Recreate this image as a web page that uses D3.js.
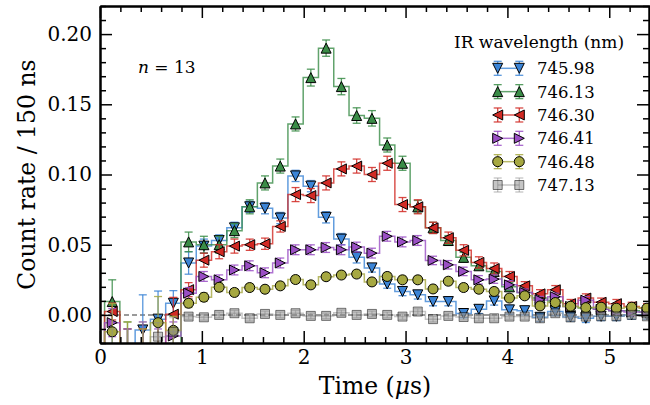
<!DOCTYPE html>
<html>
<head>
<meta charset="utf-8">
<script src="https://cdn.jsdelivr.net/npm/d3@7"></script>
<style>
  body { margin: 0; background: #fff; }
  text { font-family: "DejaVu Serif", serif; fill: #000; }
</style>
</head>
<body>
<div class="chart"></div>
<script>
// bin centres in microseconds (150 ns bins), first and last sit just outside the axes
const times = [-0.03, 0.12, 0.27, 0.42, 0.57, 0.72, 0.87, 1.02, 1.17, 1.32, 1.47, 1.62, 1.77,
  1.92, 2.07, 2.22, 2.37, 2.52, 2.67, 2.82, 2.97, 3.12, 3.27, 3.42, 3.57, 3.72, 3.87, 4.02,
  4.17, 4.32, 4.47, 4.62, 4.77, 4.92, 5.07, 5.22, 5.37, 5.52];

const labels = ["745.98", "746.13", "746.30", "746.41", "746.48", "747.13"];

const blue = [-0.03, -0.025, -0.03, -0.0107, -0.003, 0.0083, 0.037, 0.049, 0.053, 0.062, 0.077,
  0.076, 0.069, 0.099, 0.0917, 0.0695, 0.054, 0.041, 0.0335, 0.022, 0.0167, 0.0143, 0.0095,
  0.0095, 0.001, 0.004, 0.010, 0.0036, 0.003, -0.0017, 0.0024, -0.0015, -0.0024, -0.001,
  -0.001, 0.0, 0.0, 0.001];
const blueErr = [0.02, 0.02, 0.02, 0.025, 0.02, 0.009, 0.008, 0.005, 0.004, 0.004, 0.004,
  0.004, 0.004, 0.004, 0.004, 0.004, 0.004, 0.004, 0.003, 0.003, 0.003, 0.003, 0.003, 0.003,
  0.003, 0.003, 0.003, 0.003, 0.003, 0.003, 0.003, 0.003, 0.003, 0.003, 0.003, 0.003, 0.003, 0.003];

const green = [-0.03, 0.0095, -0.025, -0.03, -0.025, -0.03, 0.052, 0.050, 0.050, 0.060, 0.077,
  0.094, 0.106, 0.136, 0.169, 0.190, 0.1626, 0.142, 0.140, 0.121, 0.108, 0.077, 0.062, 0.053,
  0.041, 0.035, 0.031, 0.020, 0.016, 0.012, 0.010, 0.006, 0.005, 0.004, 0.003, 0.003, 0.002, 0.002];
const greenErr = [0.02, 0.0155, 0.02, 0.02, 0.02, 0.02, 0.007, 0.006, 0.006, 0.005, 0.005,
  0.005, 0.005, 0.005, 0.006, 0.0058, 0.0058, 0.0055, 0.0055, 0.005, 0.005, 0.0045, 0.004,
  0.0035, 0.0035, 0.003, 0.003, 0.003, 0.003, 0.003, 0.003, 0.003, 0.003, 0.003, 0.003, 0.003, 0.003, 0.003];

const red = [-0.03, 0.0024, -0.03, -0.03, -0.025, 0.0005, 0.018, 0.039, 0.045, 0.049, 0.050,
  0.0507, 0.063, 0.0857, 0.085, 0.094, 0.104, 0.106, 0.100, 0.108, 0.0786, 0.077, 0.062, 0.055,
  0.046, 0.0374, 0.033, 0.0274, 0.0207, 0.015, 0.0179, 0.008, 0.012, 0.009, 0.008, 0.006, 0.005, 0.004];
const redErr = [0.02, 0.006, 0.02, 0.02, 0.02, 0.012, 0.005, 0.005, 0.005, 0.005, 0.004,
  0.004, 0.004, 0.005, 0.005, 0.005, 0.005, 0.005, 0.005, 0.005, 0.005, 0.005, 0.004, 0.004,
  0.004, 0.004, 0.004, 0.0035, 0.003, 0.003, 0.003, 0.003, 0.003, 0.003, 0.003, 0.003, 0.003, 0.003];

const purple = [-0.03, -0.0055, -0.03, -0.025, -0.03, -0.015, 0.0155, 0.0274, 0.025, 0.032,
  0.035, 0.030, 0.037, 0.0464, 0.0464, 0.048, 0.0464, 0.0483, 0.044, 0.056, 0.052, 0.053,
  0.0388, 0.0357, 0.031, 0.025, 0.0255, 0.0214, 0.016, 0.0107, 0.013, 0.006, 0.0105, 0.004,
  0.003, 0.002, 0.002, 0.002];
const purpleErr = [0.02, 0.01, 0.02, 0.02, 0.02, 0.01, 0.004, 0.0035, 0.0035, 0.0035, 0.0035,
  0.0035, 0.0035, 0.0035, 0.0035, 0.0035, 0.0035, 0.0035, 0.0035, 0.0035, 0.0035, 0.0035,
  0.003, 0.003, 0.003, 0.003, 0.003, 0.003, 0.0025, 0.0025, 0.0025, 0.0025, 0.0025, 0.0025,
  0.0025, 0.0025, 0.0025, 0.0025];

const olive = [-0.03, -0.012, -0.025, -0.03, -0.0055, -0.011, 0.0083, 0.0126, 0.0197, 0.016,
  0.0195, 0.0183, 0.0207, 0.0252, 0.0214, 0.0272, 0.0284, 0.0291, 0.0235, 0.0274, 0.025, 0.025,
  0.0185, 0.024, 0.0195, 0.0183, 0.0167, 0.012, 0.0136, 0.0064, 0.0088, 0.0062, 0.0052, 0.0055,
  0.0048, 0.0055, 0.0048, 0.004];
const oliveErr = [0.02, 0.02, 0.02, 0.02, 0.0186, 0.01, 0.003, 0.003, 0.003, 0.0025, 0.0025,
  0.0025, 0.0025, 0.0025, 0.0025, 0.0025, 0.0025, 0.0025, 0.0025, 0.0025, 0.0025, 0.0025,
  0.0025, 0.0025, 0.0025, 0.0025, 0.0025, 0.0025, 0.0025, 0.0025, 0.0025, 0.0025, 0.0025,
  0.0025, 0.0025, 0.0025, 0.0025, 0.0025];

const gray = [-0.03, -0.03, -0.03, -0.025, -0.0155, -0.012, -0.0012, -0.0017, 0.0, 0.0012,
  -0.0024, 0.0007, 0.0, 0.0012, -0.0007, -0.0007, 0.0015, 0.0, 0.0007, 0.0, -0.0012, 0.0024,
  -0.003, -0.0007, -0.0015, -0.0024, -0.0024, -0.0012, -0.0012, -0.0024, 0.0012, -0.0018,
  -0.0012, -0.001, -0.001, 0.0, -0.001, 0.0];
const grayErr = [0.02, 0.02, 0.02, 0.02, 0.01, 0.01, 0.002, 0.002, 0.002, 0.002, 0.002, 0.002,
  0.002, 0.002, 0.002, 0.002, 0.002, 0.002, 0.002, 0.002, 0.002, 0.002, 0.002, 0.002, 0.002,
  0.002, 0.002, 0.002, 0.002, 0.002, 0.002, 0.002, 0.002, 0.002, 0.002, 0.002, 0.002, 0.002];

const xTicks = [0, 1, 2, 3, 4, 5];
const yTicks = [0.00, 0.05, 0.10, 0.15, 0.20];

const series = [
  {name: labels[0], vals: blue,   err: blueErr,   color: "#3b84d6", marker: "down",   alpha: 1},
  {name: labels[1], vals: green,  err: greenErr,  color: "#3a8c47", marker: "up",     alpha: 1},
  {name: labels[2], vals: red,    err: redErr,    color: "#d12a24", marker: "left",   alpha: 1},
  {name: labels[3], vals: purple, err: purpleErr, color: "#9a4fc4", marker: "right",  alpha: 1},
  {name: labels[4], vals: olive,  err: oliveErr,  color: "#a6a841", marker: "circle", alpha: 1},
  {name: labels[5], vals: gray,   err: grayErr,   color: "#8c8c8c", marker: "square", alpha: 0.5}
];

const W = 650, H = 405;
const L = 100, R = 650, T = 6, B = 343;

const svg = d3.select(".chart").append("svg")
  .attr("width", W)
  .attr("height", H)
  .style("background", "#fff");

const x = d3.scaleLinear().domain([0, 5.4]).range([L, R]);
const y = d3.scaleLinear().domain([-0.02, 0.22]).range([B, T]);

svg.append("clipPath").attr("id", "plotclip")
  .append("rect").attr("x", L).attr("y", T).attr("width", R - L).attr("height", B - T);

// marker shapes like matplotlib's v ^ < > o s
function markerPath(type, r) {
  if (type === "circle") return d3.symbol(d3.symbolCircle, Math.PI * r * r)();
  if (type === "square") return d3.symbol(d3.symbolSquare, (1.8 * r) * (1.8 * r))();
  const pts = {
    up: [[0, -r], [-r, r], [r, r]],
    down: [[0, r], [-r, -r], [r, -r]],
    left: [[-r, 0], [r, -r], [r, r]],
    right: [[r, 0], [-r, -r], [-r, r]]
  }[type];
  return "M" + pts.map(p => p.join(",")).join("L") + "Z";
}

const plot = svg.append("g").attr("clip-path", "url(#plotclip)");

// dashed zero line
plot.append("line")
  .attr("x1", L).attr("x2", R)
  .attr("y1", y(0)).attr("y2", y(0))
  .attr("stroke", "#7a7a7a")
  .attr("stroke-width", 1.5)
  .attr("stroke-dasharray", "5,3");

const step = d3.line()
  .x(d => x(d.t))
  .y(d => y(d.v))
  .curve(d3.curveStep);

const cap = 4;

series.forEach(s => {
  const pts = times.map((t, i) => ({t: t, v: s.vals[i], e: s.err[i]}));
  const g = plot.append("g");

  g.append("path")
    .attr("d", step(pts))
    .attr("fill", "none")
    .attr("stroke", s.color)
    .attr("stroke-width", 1.5)
    .attr("stroke-opacity", s.alpha < 1 ? s.alpha : 0.8);

  const eb = g.selectAll(".eb").data(pts).enter().append("g")
    .attr("stroke", s.color)
    .attr("stroke-width", 1.3)
    .attr("stroke-opacity", s.alpha < 1 ? s.alpha : 0.85);
  eb.append("line")
    .attr("x1", d => x(d.t)).attr("x2", d => x(d.t))
    .attr("y1", d => y(d.v - d.e)).attr("y2", d => y(d.v + d.e));
  eb.append("line")
    .attr("x1", d => x(d.t) - cap).attr("x2", d => x(d.t) + cap)
    .attr("y1", d => y(d.v + d.e)).attr("y2", d => y(d.v + d.e));
  eb.append("line")
    .attr("x1", d => x(d.t) - cap).attr("x2", d => x(d.t) + cap)
    .attr("y1", d => y(d.v - d.e)).attr("y2", d => y(d.v - d.e));

  g.selectAll(".mk").data(pts).enter().append("path")
    .attr("d", markerPath(s.marker, 5))
    .attr("transform", d => `translate(${x(d.t)},${y(d.v)})`)
    .attr("fill", s.color)
    .attr("fill-opacity", s.alpha)
    .attr("stroke", "#000")
    .attr("stroke-opacity", s.alpha)
    .attr("stroke-width", 1);
});

// axes: ticks point inward on all four sides
function styleAxis(g) {
  g.select(".domain").attr("stroke", "#000").attr("stroke-width", 2);
  g.selectAll(".tick line").attr("stroke", "#000").attr("stroke-width", 1.5);
  g.selectAll(".tick text").style("font-family", "DejaVu Serif").style("font-size", "20px").attr("fill", "#000");
}

const xMinor = d3.range(0, 5.41, 0.2).filter(v => Math.abs(v - Math.round(v)) > 1e-6);
const yMinor = d3.range(-0.02, 0.2201, 0.01).filter(v => Math.abs(v * 20 - Math.round(v * 20)) > 1e-6);

svg.append("g").attr("transform", `translate(0,${B})`)
  .call(d3.axisBottom(x).tickValues(xMinor).tickSize(-6).tickSizeOuter(0).tickFormat(""))
  .call(styleAxis);
svg.append("g").attr("transform", `translate(0,${B})`)
  .call(d3.axisBottom(x).tickValues(xTicks).tickSize(-12).tickSizeOuter(0).tickPadding(7).tickFormat(d3.format("d")))
  .call(styleAxis);
svg.append("g").attr("transform", `translate(0,${T})`)
  .call(d3.axisTop(x).tickValues(xMinor).tickSize(-6).tickSizeOuter(0).tickFormat(""))
  .call(styleAxis);
svg.append("g").attr("transform", `translate(0,${T})`)
  .call(d3.axisTop(x).tickValues(xTicks).tickSize(-12).tickSizeOuter(0).tickFormat(""))
  .call(styleAxis);

svg.append("g").attr("transform", `translate(${L},0)`)
  .call(d3.axisLeft(y).tickValues(yMinor).tickSize(-6).tickSizeOuter(0).tickFormat(""))
  .call(styleAxis);
svg.append("g").attr("transform", `translate(${L},0)`)
  .call(d3.axisLeft(y).tickValues(yTicks).tickSize(-12).tickSizeOuter(0).tickPadding(8).tickFormat(d3.format(".2f")))
  .call(styleAxis);
svg.append("g").attr("transform", `translate(${R - 1},0)`)
  .call(d3.axisRight(y).tickValues(yMinor).tickSize(-6).tickSizeOuter(0).tickFormat(""))
  .call(styleAxis);
svg.append("g").attr("transform", `translate(${R - 1},0)`)
  .call(d3.axisRight(y).tickValues(yTicks).tickSize(-12).tickSizeOuter(0).tickFormat(""))
  .call(styleAxis);

// axis labels
const xl = svg.append("text")
  .attr("x", (L + R) / 2).attr("y", 394)
  .attr("text-anchor", "middle")
  .style("font-size", "23.5px");
xl.append("tspan").text("Time (");
xl.append("tspan").style("font-style", "italic").text("\u03bc");
xl.append("tspan").text("s)");

svg.append("text")
  .attr("transform", `translate(27,${(T + B) / 2}) rotate(-90)`)
  .attr("text-anchor", "middle")
  .attr("dy", "0.35em")
  .style("font-size", "23.5px")
  .text("Count rate / 150 ns");

// n = 13 annotation
const nt = svg.append("text")
  .attr("x", 138).attr("y", 73)
  .style("font-size", "17px");
nt.append("tspan").style("font-style", "italic").text("n");
nt.append("tspan").text(" = 13");

// legend
const leg = svg.append("g");
leg.append("text")
  .attr("x", 539).attr("y", 48)
  .attr("text-anchor", "middle")
  .style("font-size", "17px")
  .text("IR wavelength (nm)");

const legY = d3.scaleLinear().domain([0, 5]).range([68.3, 185]);
const lx = [497.7, 519.3];

series.forEach((s, i) => {
  const yy = legY(i);
  const g = leg.append("g");
  g.append("line")
    .attr("x1", lx[0]).attr("x2", lx[1]).attr("y1", yy).attr("y2", yy)
    .attr("stroke", s.color).attr("stroke-width", 1.5)
    .attr("stroke-opacity", s.alpha < 1 ? s.alpha : 0.8);
  lx.forEach(px => {
    const e = g.append("g").attr("stroke", s.color).attr("stroke-width", 1.3)
      .attr("stroke-opacity", s.alpha < 1 ? s.alpha : 0.85);
    e.append("line").attr("x1", px).attr("x2", px).attr("y1", yy - 7).attr("y2", yy + 7);
    e.append("line").attr("x1", px - cap).attr("x2", px + cap).attr("y1", yy - 7).attr("y2", yy - 7);
    e.append("line").attr("x1", px - cap).attr("x2", px + cap).attr("y1", yy + 7).attr("y2", yy + 7);
    g.append("path")
      .attr("d", markerPath(s.marker, 5))
      .attr("transform", `translate(${px},${yy})`)
      .attr("fill", s.color).attr("fill-opacity", s.alpha)
      .attr("stroke", "#000").attr("stroke-opacity", s.alpha).attr("stroke-width", 1);
  });
  g.append("text")
    .attr("x", 537).attr("y", yy)
    .attr("dy", "0.36em")
    .style("font-size", "16.5px")
    .text(s.name);
});
</script>
</body>
</html>
